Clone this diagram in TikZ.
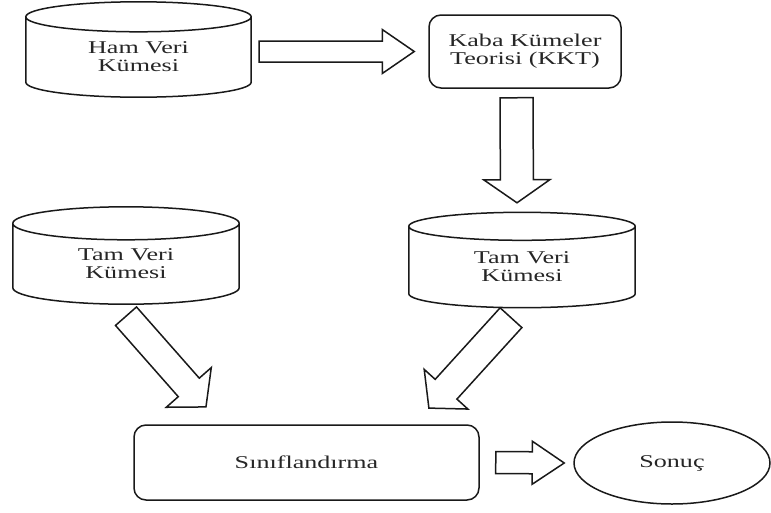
\documentclass[tikz,border=0pt]{standalone}
\usepackage{fontspec}
\setmainfont[FakeStretch=1.45]{Liberation Serif}
\usetikzlibrary{calc,shapes.geometric}

% database drum round a node: #1 node, #2 half height of the end ellipse
\newcommand{\drum}[2]{%
  \draw[outline] let \p1=(#1.north west), \p2=(#1.south east), \n1={(\x2-\x1)/2} in
    (\p1) -- (\x1,{\y2+#2pt}) arc[start angle=180, end angle=360, x radius=\n1, y radius=#2pt]
    -- (\x2,\y1)
    (#1.north) ellipse[x radius=\n1, y radius=#2pt];}

% block arrow: #1 from, #2 to, #3 half shaft, #4 half head, #5 head length
\newcommand{\fatarrow}[5]{%
  \path let \p1=#1, \p2=#2 in \pgfextra{%
    \pgfmathsetmacro{\fax}{\x1}\pgfmathsetmacro{\fay}{\y1}%
    \pgfmathsetmacro{\faa}{atan2(\y2-\y1,\x2-\x1)}%
    \pgfmathsetmacro{\fal}{veclen(\x2-\x1,\y2-\y1)}%
    \xdef\fax{\fax}\xdef\fay{\fay}\xdef\faa{\faa}\xdef\fal{\fal}};
  \draw[outline, shift={(\fax,\fay)}, rotate=\faa]
    (0,-#3) -- (\fal-#5,-#3) -- (\fal-#5,-#4) -- (\fal,0) -- (\fal-#5,#4)
    -- (\fal-#5,#3) -- (0,#3) -- cycle;}

\tikzset{
  outline/.style={draw=black!90, line width=1.5pt, line join=miter},
  txt/.style={text=black!85, align=center, font=\fontsize{18}{18}\selectfont, inner sep=0pt},
  box/.style={txt, outline, rounded corners=12pt},
}

\begin{document}
\begin{tikzpicture}[x=1pt, y=1pt]
  \useasboundingbox (0,0) rectangle (771,-512);

  % top row
  \node (ham) at (138.5,-57) [txt, minimum width=225pt, minimum height=80pt] {Ham Veri\\Kümesi};
  \node (kkt) at (525,-51.5) [box, minimum width=192pt, minimum height=73pt] {Kaba Kümeler\\Teorisi (KKT)};

  % middle row
  \node (tl) at (126,-263.75) [txt, minimum width=226pt, minimum height=80.5pt] {Tam Veri\\Kümesi};
  \node (tr) at (522,-267) [txt, minimum width=226pt, minimum height=81pt] {Tam Veri\\Kümesi};

  % bottom row
  \node (sin) at (306.5,-462.5) [box, minimum width=345pt, minimum height=75pt] {Sınıflandırma};
  \node (son) at (672,-463) [txt, outline, ellipse, minimum width=196pt, minimum height=82pt] {Sonuç};

  \drum{ham}{15}
  \drum{tl}{16.5}
  \drum{tr}{14}

  % arrows
  \fatarrow{($(ham.east |- kkt.west)+(8,0)$)}{($(kkt.west)+(-14,0)$)}{10.5}{22}{32}
  \fatarrow{($(kkt.south)+(-8.5,-9)$)}{($(tr.north)+(-5,23.5)$)}{16.5}{33}{23}
  \fatarrow{($(tl.south)+(0,-12)$)}{($(sin.north west)+(73,17)$)}{14}{30}{26}
  \fatarrow{($(tr.south)+(-11,-10)$)}{($(sin.north east)+(-51,16)$)}{14.7}{29.5}{25.5}
  \fatarrow{($(sin.east)+(16,0)$)}{($(son.west)+(-9,0)$)}{11}{21.5}{32}
\end{tikzpicture}
\end{document}
